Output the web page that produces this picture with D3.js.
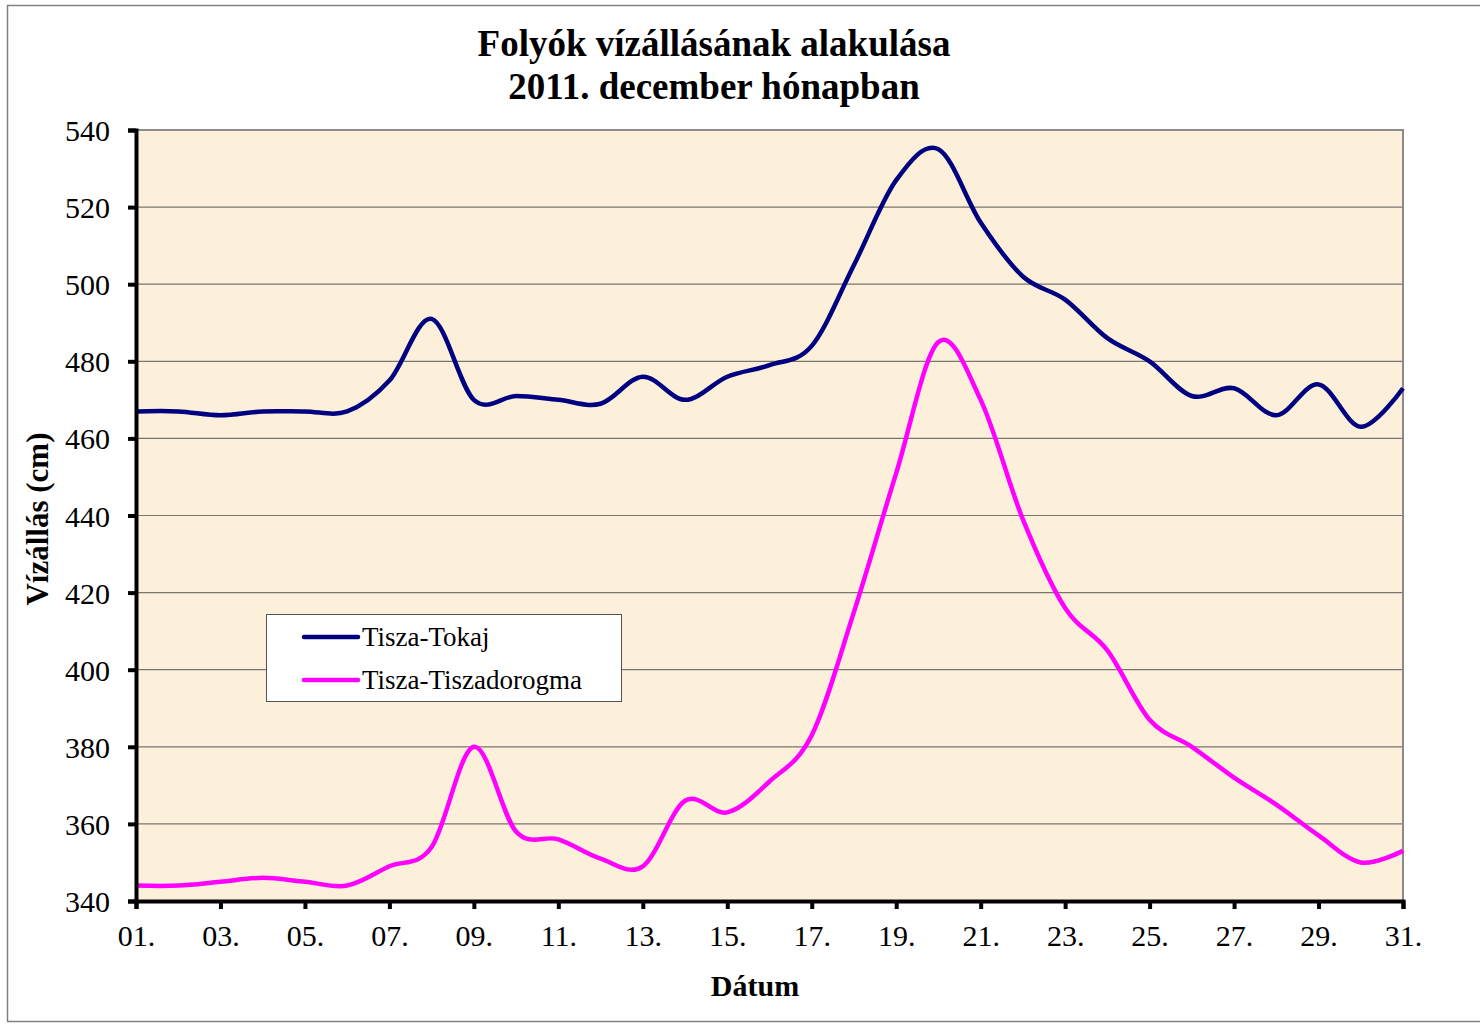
<!DOCTYPE html>
<html>
<head>
<meta charset="utf-8">
<script src="https://cdn.jsdelivr.net/npm/d3@7"></script>
<style>
  body { margin: 0; background: #fff; }
  svg { display: block; font-family: "Liberation Serif", "Times New Roman", serif; }
</style>
</head>
<body>
<svg id="chart" width="1480" height="1027"></svg>
<script>
const days = d3.range(1, 32);
const tokaj = [467, 467, 466, 467, 467, 467, 475, 491, 470, 471, 470, 469, 476, 470, 476, 479,
  484, 505, 527, 535, 516, 502, 496, 486, 480, 471, 473, 466, 474, 463, 473];
const tiszadorogma = [344, 344, 345, 346, 345, 344, 349, 354, 380, 358, 356, 351, 349, 366, 363, 371,
  383, 415, 451, 485, 470, 439, 416, 405, 387, 380, 372, 365, 357, 350, 353];
const series = [
  { name: "Tisza-Tokaj", color: "#000080", values: tokaj },
  { name: "Tisza-Tiszadorogma", color: "#ff00ff", values: tiszadorogma }
];
const yTicks = d3.range(340, 541, 20);
const xTicks = days.filter((d) => d % 2 === 1);

const svg = d3.select("#chart");
const plotLeft = 136, plotRight = 1403, plotTop = 130, plotBottom = 901;

const x = d3.scaleLinear().domain([1, 31]).range([plotLeft, plotRight]);
const y = d3.scaleLinear().domain([340, 540]).range([plotBottom, plotTop]);

// outer frame
svg.append("rect")
  .attr("x", 7.5).attr("y", 5.5)
  .attr("width", 1490).attr("height", 1016)
  .attr("fill", "#fff").attr("stroke", "#808080").attr("stroke-width", 1.5);

// plot background
svg.append("rect")
  .attr("x", plotLeft).attr("y", plotTop)
  .attr("width", plotRight - plotLeft).attr("height", plotBottom - plotTop)
  .attr("fill", "#fcf0da");

// grid lines
svg.append("g")
  .selectAll("line")
  .data(yTicks.slice(1, -1))
  .join("line")
  .attr("x1", plotLeft).attr("x2", plotRight)
  .attr("y1", (d) => y(d)).attr("y2", (d) => y(d))
  .attr("stroke", "#7a7470").attr("stroke-width", 1.2);

// top/right border
svg.append("path")
  .attr("d", `M${plotLeft},${plotTop}H${plotRight}V${plotBottom}`)
  .attr("fill", "none").attr("stroke", "#8c8c8c").attr("stroke-width", 2);

// lines
const line = d3.line()
  .x((d, i) => x(days[i]))
  .y((d) => y(d))
  .curve(d3.curveCardinal.tension(0));

svg.append("g")
  .selectAll("path")
  .data(series)
  .join("path")
  .attr("d", (d) => line(d.values))
  .attr("fill", "none")
  .attr("stroke", (d) => d.color)
  .attr("stroke-width", 4.5)
  .attr("stroke-linejoin", "round");

// axes
const yAxis = svg.append("g")
  .attr("transform", `translate(${plotLeft},0)`)
  .call(d3.axisLeft(y).tickValues(yTicks).tickSize(8).tickPadding(18));
const xAxis = svg.append("g")
  .attr("transform", `translate(0,${plotBottom})`)
  .call(d3.axisBottom(x).tickValues(xTicks).tickSize(8).tickPadding(16)
    .tickFormat((d) => String(d).padStart(2, "0") + "."));

[yAxis, xAxis].forEach((g) => {
  g.select(".domain").attr("stroke", "#000").attr("stroke-width", 4);
  g.selectAll(".tick line").attr("stroke", "#000").attr("stroke-width", 4);
  g.selectAll(".tick text")
    .attr("fill", "#000")
    .style("font-family", "'Liberation Serif', 'Times New Roman', serif")
    .style("font-size", "30px");
});
yAxis.selectAll(".tick text").attr("dy", "0.35em");

// titles
svg.append("text")
  .attr("x", 714).attr("y", 56)
  .attr("text-anchor", "middle")
  .style("font-size", "37px").style("font-weight", "bold")
  .text("Folyók vízállásának alakulása");
svg.append("text")
  .attr("x", 714).attr("y", 99)
  .attr("text-anchor", "middle")
  .style("font-size", "37px").style("font-weight", "bold")
  .text("2011. december hónapban");

svg.append("text")
  .attr("x", 755).attr("y", 996)
  .attr("text-anchor", "middle")
  .style("font-size", "30px").style("font-weight", "bold")
  .text("Dátum");

svg.append("text")
  .attr("transform", "translate(48,519) rotate(-90)")
  .attr("text-anchor", "middle")
  .style("font-size", "31px").style("font-weight", "bold")
  .text("Vízállás (cm)");

// legend
const legend = svg.append("g").attr("transform", "translate(266,614)");
legend.append("rect")
  .attr("x", 0.5).attr("y", 0.5)
  .attr("width", 355).attr("height", 87)
  .attr("fill", "#fff").attr("stroke", "#555").attr("stroke-width", 1);
const item = legend.selectAll("g.item")
  .data(series)
  .join("g")
  .attr("class", "item")
  .attr("transform", (d, i) => `translate(0,${23 + i * 43})`);
item.append("line")
  .attr("x1", 38).attr("x2", 92)
  .attr("stroke", (d) => d.color)
  .attr("stroke-width", 4.5)
  .attr("stroke-linecap", "round");
item.append("text")
  .attr("x", 96).attr("dy", "0.35em")
  .style("font-size", "27px")
  .text((d) => d.name);
</script>
</body>
</html>
